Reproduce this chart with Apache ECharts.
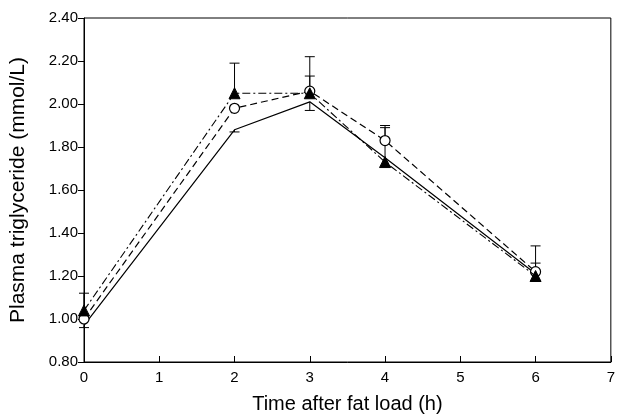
<!DOCTYPE html>
<html>
<head>
<meta charset="utf-8">
<script src="https://cdn.jsdelivr.net/npm/echarts@6/dist/echarts.min.js"></script>
<style>
	html, body { margin: 0; padding: 0; background: #fff; }
	#tg { width: 618px; height: 419px; }
</style>
</head>
<body>
<div id="tg"></div>
<script>
// time points (h)
var hours = [0, 2, 3, 4, 6];
// plasma triglyceride (mmol/L)
var solidVals = [0.97, 1.88, 2.01, 1.75, 1.21];
var circleVals = [1.00, 1.98, 2.06, 1.83, 1.22];
var triVals = [1.04, 2.05, 2.05, 1.73, 1.20];
// error bar end points (null = none drawn)
var solidErrEnd = [0.96, 1.87, 1.97, 1.89, null];
var circleErrEnd = [null, null, 2.13, 1.90, 1.26];
var triErrEnd = [1.12, 2.19, 2.22, null, 1.34];
// axis ticks
var xTicks = [0, 1, 2, 3, 4, 5, 6, 7];
var yTicks = [0.80, 1.00, 1.20, 1.40, 1.60, 1.80, 2.00, 2.20, 2.40];

var main = {
	init: function() {
		main.chart()
	},
	pairs: function(vals) {
		return hours.map(function(h, i) { return [h, vals[i]] })
	},
	errs: function(vals, ends) {
		var out = [];
		hours.forEach(function(h, i) {
			if (ends[i] != null) out.push([h, vals[i], ends[i]])
		});
		return out
	},
	chart: function() {
		var myChart = echarts.init(document.getElementById('tg'));
		var font = 'Liberation Sans, Arial, sans-serif';

		var errRender = function(params, api) {
			var a = api.coord([api.value(0), api.value(1)]);
			var b = api.coord([api.value(0), api.value(2)]);
			var st = { stroke: '#000', lineWidth: 1 };
			return {
				type: 'group',
				children: [{
					type: 'line',
					shape: { x1: a[0], y1: a[1], x2: b[0], y2: b[1] },
					style: st
				}, {
					type: 'line',
					shape: { x1: b[0] - 5, y1: b[1], x2: b[0] + 5, y2: b[1] },
					style: st
				}]
			}
		};

		var errData = main.errs(solidVals, solidErrEnd)
			.concat(main.errs(circleVals, circleErrEnd))
			.concat(main.errs(triVals, triErrEnd));

		var option = {
			animation: false,
			grid: {
				left: 84,
				right: 4,
				top: 18,
				bottom: 57,
				show: true,
				borderColor: '#000',
				borderWidth: 1
			},
			xAxis: {
				type: 'value',
				min: xTicks[0],
				max: xTicks[xTicks.length - 1],
				interval: 1,
				name: 'Time after fat load (h)',
				nameLocation: 'middle',
				nameGap: 32,
				nameTextStyle: { fontFamily: font, fontSize: 20, color: '#000' },
				axisLine: { lineStyle: { color: '#000', width: 1 } },
				axisTick: { inside: true, length: 6, lineStyle: { color: '#000' } },
				axisLabel: { fontFamily: font, fontSize: 15, color: '#000', margin: 8 },
				splitLine: { show: false }
			},
			yAxis: {
				type: 'value',
				min: yTicks[0],
				max: yTicks[yTicks.length - 1],
				interval: 0.2,
				name: 'Plasma triglyceride (mmol/L)',
				nameLocation: 'middle',
				nameGap: 55,
				nameTextStyle: { fontFamily: font, fontSize: 21, color: '#000' },
				axisLine: { show: true, lineStyle: { color: '#000', width: 1 } },
				axisTick: { show: true, inside: false, length: 6, lineStyle: { color: '#000' } },
				axisLabel: {
					fontFamily: font, fontSize: 15, color: '#000', margin: 6,
					formatter: function(v) { return v.toFixed(2) }
				},
				splitLine: { show: false }
			},
			series: [{
				type: 'custom',
				renderItem: errRender,
				data: errData,
				z: 1,
				silent: true
			}, {
				name: 'solid',
				type: 'line',
				data: main.pairs(solidVals),
				symbol: 'none',
				lineStyle: { color: '#000', width: 1.2, type: 'solid' },
				z: 2
			}, {
				name: 'circle',
				type: 'line',
				data: main.pairs(circleVals),
				symbol: 'circle',
				symbolSize: 10,
				itemStyle: { color: '#fff', borderColor: '#000', borderWidth: 1.2 },
				lineStyle: { color: '#000', width: 1.2, type: [7, 4] },
				z: 3
			}, {
				name: 'triangle',
				type: 'line',
				data: main.pairs(triVals),
				symbol: 'triangle',
				symbolSize: 11,
				itemStyle: { color: '#000', borderColor: '#000' },
				lineStyle: { color: '#000', width: 1.1, type: [8, 3, 2, 3] },
				z: 4
			}]
		};
		myChart.setOption(option);
	}
}

main.init()
</script>
</body>
</html>
